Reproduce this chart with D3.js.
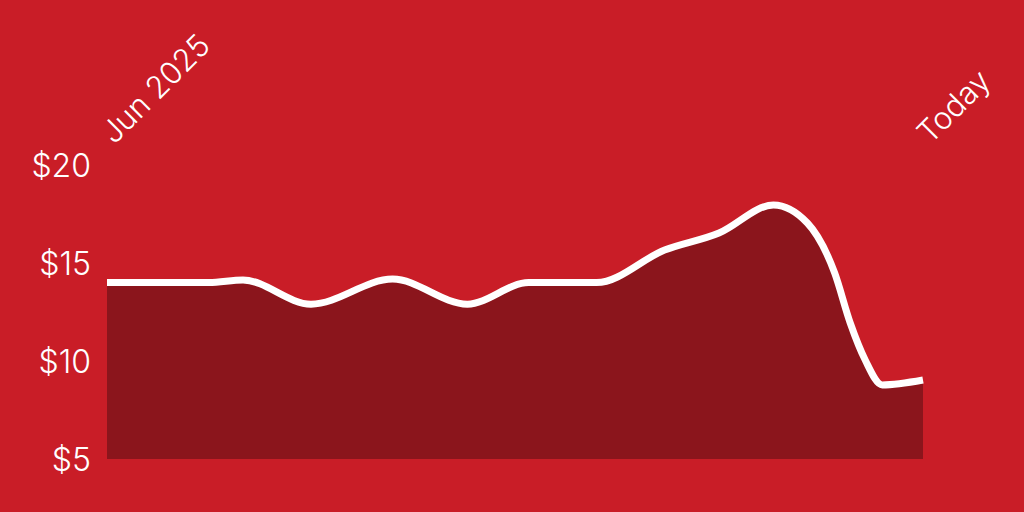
<!DOCTYPE html>
<html>
<head>
<meta charset="utf-8">
<script src="https://cdn.jsdelivr.net/npm/d3@7"></script>
<style>
  body { margin: 0; background: #c91d27; }
  svg { display: block; }
  .tick text { font-family: Inter, "Noto Sans", sans-serif; font-weight: 300; fill: #fff; }
</style>
</head>
<body>
<div id="chart"></div>
<script>
// days since start of Jun 2025, and price in dollars
const days   = [0, 15, 20, 30, 42, 53, 62, 72, 82, 90, 98, 103, 107, 109.3, 111.5, 114, 120];
const prices = [14.0, 14.0, 14.13, 12.9, 14.18, 12.9, 14.0, 14.0, 15.66, 16.53, 17.96, 17.04, 14.5, 11.94, 10.05, 8.78, 9.03];
const yTicks = [5, 10, 15, 20];
const xTickDays   = [0, 120];
const xTickLabels = ["Jun 2025", "Today"];

const Width = 1024, Height = 512;
const Margin = {top: 165, right: 101, bottom: 53, left: 107};
const WidthInner = Width - Margin.left - Margin.right;
const HeightInner = Height - Margin.top - Margin.bottom;

const Data = days.map((d, i) => ({day: d, price: prices[i]}));

const ScaleX = d3.scaleLinear().domain([0, 120]).range([0, WidthInner]);
const ScaleY = d3.scaleLinear().domain([5, 20]).range([HeightInner, 0]);

const Canvas = d3.select("#chart").append("svg")
    .attr("width", Width).attr("height", Height);
Canvas.append("rect").attr("width", Width).attr("height", Height).attr("fill", "#c91d27");

const Plot = Canvas.append("g")
    .attr("transform", `translate(${Margin.left}, ${Margin.top})`);

const Area = d3.area()
    .x(pp => ScaleX(pp.day))
    .y0(ScaleY(5))
    .y1(pp => ScaleY(pp.price))
    .curve(d3.curveMonotoneX);
const Line = d3.line()
    .x(pp => ScaleX(pp.day))
    .y(pp => ScaleY(pp.price))
    .curve(d3.curveMonotoneX);

Plot.append("path").attr("d", Area(Data)).attr("fill", "#8b151c");
Plot.append("path").attr("d", Line(Data))
    .attr("fill", "none").attr("stroke", "#fff").attr("stroke-width", 7);

// y axis: labels only
const AxisY = d3.axisLeft(ScaleY).tickValues(yTicks)
    .tickFormat(v => `$${v}`).tickSize(0).tickPadding(16);
const GY = Plot.append("g").call(AxisY);
GY.select(".domain").remove();
GY.selectAll("text").attr("font-size", 32).attr("dy", "0.35em");

// x axis on top, rotated labels
const AxisX = d3.axisTop(ScaleX).tickValues(xTickDays)
    .tickFormat((d, i) => xTickLabels[i]).tickSize(0);
const GX = Plot.append("g").attr("transform", "translate(1, -14)").call(AxisX);
GX.select(".domain").remove();
GX.selectAll("text")
    .attr("font-size", 31)
    .attr("text-anchor", "start")
    .attr("x", 8).attr("y", 0).attr("dy", 0)
    .attr("transform", "rotate(-45)");
</script>
</body>
</html>
